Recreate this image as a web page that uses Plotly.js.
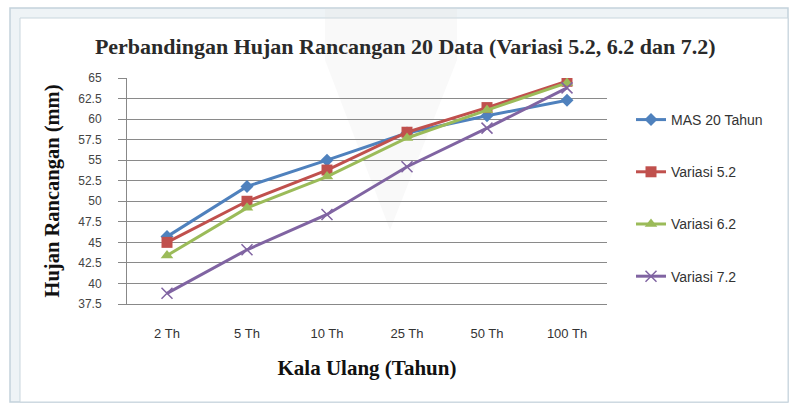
<!DOCTYPE html>
<html><head><meta charset="utf-8">
<script src="https://cdn.plot.ly/plotly-3.0.1.min.js"></script>
<style>html,body{margin:0;padding:0;background:#fff;}#c{width:790px;height:405px;}</style>
</head><body><div id="c"></div>
<script>
const categories = ["2 Th","5 Th","10 Th","25 Th","50 Th","100 Th"];
const mas20 = [45.7, 51.8, 55.0, 58.3, 60.4, 62.3];
const var52 = [45.0, 50.0, 53.8, 58.4, 61.4, 64.6];
const var62 = [43.4, 49.2, 53.0, 57.7, 61.1, 64.4];
const var72 = [38.8, 44.1, 48.4, 54.2, 58.9, 63.8];
const seriesNames = ["MAS 20 Tahun","Variasi 5.2","Variasi 6.2","Variasi 7.2"];

const colors = ["#4F81BD","#C0504D","#9BBB59","#8064A2"];
const symbols = ["diamond","square","triangle-up","x-thin-open"];
const sizes = [10,11,11,11];
const data = [mas20,var52,var62,var72].map((y,i)=>({
  x: categories, y: y, name: seriesNames[i], type:"scatter", mode:"lines+markers",
  legendgroup: "g"+i,
  line:{color:colors[i], width:3},
  marker:{symbol:symbols[i], size:sizes[i], color:colors[i], line:{color:colors[i], width: i===3?1.5:0}}
}));

// frame geometry helpers (pixel -> paper)
const M = {l:127, r:183, t:78, b:101}, W = 790, H = 405;
const pw = W - M.l - M.r, ph = H - M.t - M.b;
const px = v => (v - M.l) / pw;
const py = v => (H - M.b - v) / ph;

const serif = "Liberation Serif, Times New Roman, serif";
const sans = "Liberation Sans, Arial, sans-serif";
const layout = {
  width:W, height:H,
  margin:M,
  paper_bgcolor:"#fff", plot_bgcolor:"rgba(0,0,0,0)",
  title:{text:"<b>Perbandingan Hujan Rancangan 20 Data (Variasi 5.2, 6.2 dan 7.2)</b>",
    font:{family:serif, size:22, color:"#2a2a2a"}, x:0.513, xanchor:"center", y:1-46/405, yanchor:"middle"},
  xaxis:{type:"category", range:[-0.5,5.5], showgrid:false, showline:true, linecolor:"#888", linewidth:1,
    ticks:"", ticklabelstandoff:17,
    tickfont:{family:sans, size:13, color:"#333"},
    title:{text:"<b>Kala Ulang (Tahun)</b>", font:{family:serif, size:21, color:"#111"}, standoff:20}},
  yaxis:{range:[37.5,65], dtick:2.5, tick0:37.5, showgrid:true, gridcolor:"#8a8a8a", gridwidth:1,
    showline:true, linecolor:"#888", ticks:"outside", ticklen:8, tickcolor:"#888", ticklabelstandoff:14,
    tickfont:{family:sans, size:12, color:"#444"}, zeroline:false,
    title:{text:"<b>Hujan Rancangan (mm)</b>", font:{family:serif, size:20.5, color:"#111"}, standoff:13}},
  legend:{x:1.05, xanchor:"left", y:0.885, yanchor:"top", traceorder:"grouped", tracegroupgap:31,
    font:{family:sans, size:14, color:"#333"}, bgcolor:"rgba(0,0,0,0)"},
  shapes:[
    {type:"rect", layer:"below", xref:"paper", yref:"paper", x0:px(10), x1:px(788), y0:py(402), y1:py(8),
      line:{color:"#c3d2dc", width:1.5}, fillcolor:"#eef3f6"},
    {type:"rect", layer:"below", xref:"paper", yref:"paper", x0:px(20), x1:px(788), y0:py(402), y1:py(18),
      line:{color:"#c9d6de", width:1}, fillcolor:"#ffffff"},
    {type:"path", layer:"below", xref:"paper", yref:"paper",
      path:`M ${px(325)},${py(8)} L ${px(457)},${py(8)} L ${px(457)},${py(60)} L ${px(390)},${py(230)} L ${px(325)},${py(60)} Z`,
      line:{width:0}, fillcolor:"rgba(225,225,225,0.2)"}
  ],
  showlegend:true
};
Plotly.newPlot("c", data, layout, {displayModeBar:false, staticPlot:true});
</script></body></html>
